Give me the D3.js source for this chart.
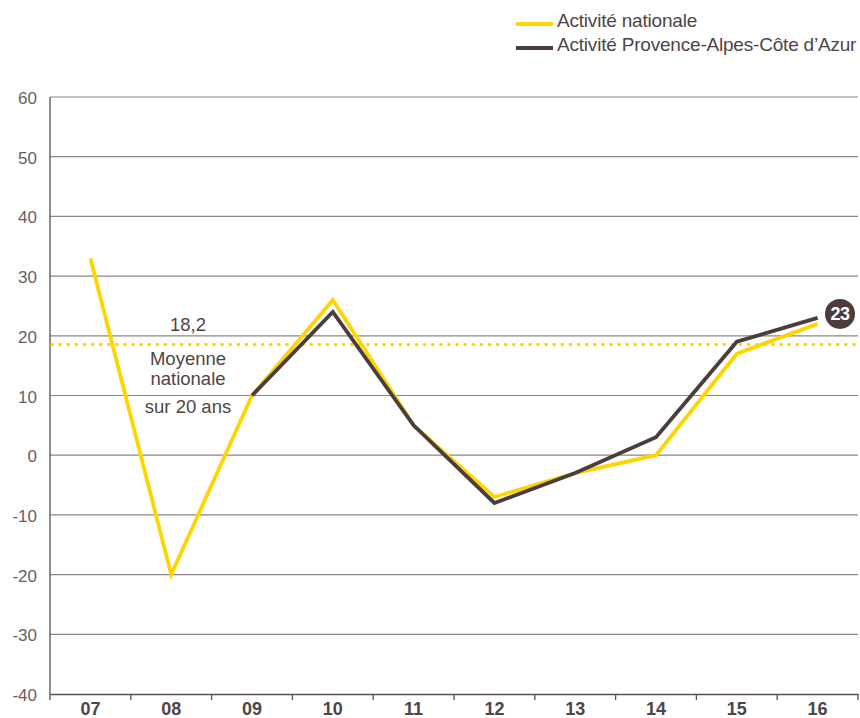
<!DOCTYPE html>
<html>
<head>
<meta charset="utf-8">
<script src="https://cdn.jsdelivr.net/npm/d3@7"></script>
<style>
  body { margin: 0; background: #fff; }
  svg { font-family: "Liberation Sans", Arial, sans-serif; }
</style>
</head>
<body>
<div id="canvas"></div>
<script>
// chart data
var years = ["07", "08", "09", "10", "11", "12", "13", "14", "15", "16"];
var national = [33, -20, 10, 26, 5, -7, -3, 0, 17, 22];
var paca = [null, null, 10, 24, 5, -8, -3, 3, 19, 23];
var yTicks = [60, 50, 40, 30, 20, 10, 0, -10, -20, -30, -40];
var moyenne = 18.2;
var seriesNames = ["Activité nationale", "Activité Provence-Alpes-Côte d’Azur"];

var yellow = "#ffd500",
    brown = "#4b3d3d",
    textCol = "#4f4545",
    gridCol = "#8d8686";

var width = 860, height = 718;
var plotLeft = 50, plotRight = 858, plotTop = 97, plotBottom = 694;

var svg = d3.select("#canvas").append("svg")
    .attr("width", width)
    .attr("height", height);

var x = d3.scaleBand().domain(years).range([plotLeft, plotRight]);
var y = d3.scaleLinear().domain([-40, 60]).range([plotBottom, plotTop]);

// horizontal grid
svg.append("g").selectAll("line")
    .data(yTicks.filter(function (d) { return d > -40; }))
    .enter().append("line")
    .attr("x1", plotLeft)
    .attr("x2", plotRight)
    .attr("y1", function (d) { return y(d); })
    .attr("y2", function (d) { return y(d); })
    .attr("stroke", gridCol)
    .attr("stroke-width", 1.2);

// y labels
svg.append("g").selectAll("text")
    .data(yTicks)
    .enter().append("text")
    .attr("x", 37)
    .attr("y", function (d) { return y(d) + 7; })
    .attr("text-anchor", "end")
    .style("font-size", "17px")
    .style("fill", "#676060")
    .text(function (d) { return d; });

// left axis line
svg.append("line")
    .attr("x1", plotLeft).attr("x2", plotLeft)
    .attr("y1", plotTop).attr("y2", plotBottom)
    .attr("stroke", "#5a4f4f")
    .attr("stroke-width", 1.3);

// bottom axis
var xAxis = d3.axisBottom(x).tickSize(0).tickPadding(0);
var gx = svg.append("g")
    .attr("transform", "translate(0," + plotBottom + ")")
    .call(xAxis);
gx.select(".domain").attr("stroke", "#5a4f4f").attr("stroke-width", 1.6);
gx.selectAll("text")
    .attr("dy", null)
    .attr("y", 21)
    .style("font-family", "'Liberation Sans', Arial, sans-serif")
    .style("font-size", "18px")
    .style("font-weight", "bold")
    .style("fill", textCol);

// ticks at band boundaries
svg.append("g").selectAll("line")
    .data(years)
    .enter().append("line")
    .attr("x1", function (d) { return x(d) + x.bandwidth(); })
    .attr("x2", function (d) { return x(d) + x.bandwidth(); })
    .attr("y1", plotBottom)
    .attr("y2", plotBottom + 6)
    .attr("stroke", "#5a4f4f")
    .attr("stroke-width", 1.3);
svg.append("line")
    .attr("x1", plotLeft).attr("x2", plotLeft)
    .attr("y1", plotBottom).attr("y2", plotBottom + 6)
    .attr("stroke", "#5a4f4f")
    .attr("stroke-width", 1.3);

// average dotted line
svg.append("line")
    .attr("x1", plotLeft + 2)
    .attr("x2", plotRight)
    .attr("y1", y(moyenne) - 2)
    .attr("y2", y(moyenne) - 2)
    .attr("stroke", yellow)
    .attr("stroke-width", 3.6)
    .attr("stroke-linecap", "round")
    .attr("stroke-dasharray", "0.1 8");

var cx = function (i) { return x(years[i]) + x.bandwidth() / 2; };

var lineGen = d3.line()
    .defined(function (d) { return d != null; })
    .x(function (d, i) { return cx(i); })
    .y(function (d) { return y(d); });

svg.append("path")
    .datum(national)
    .attr("d", lineGen)
    .attr("fill", "none")
    .attr("stroke", yellow)
    .attr("stroke-width", 3.8);

svg.append("path")
    .datum(paca)
    .attr("d", lineGen)
    .attr("fill", "none")
    .attr("stroke", brown)
    .attr("stroke-width", 3.8);

// average annotation
var ax = 188;
var noteLines = [
    { t: String(moyenne).replace(".", ","), y: 331 },
    { t: "Moyenne", y: 365 },
    { t: "nationale", y: 385 },
    { t: "sur 20 ans", y: 413 }
];
svg.append("g").selectAll("text")
    .data(noteLines)
    .enter().append("text")
    .attr("x", ax)
    .attr("y", function (d) { return d.y; })
    .attr("text-anchor", "middle")
    .style("font-size", "18.5px")
    .style("fill", textCol)
    .text(function (d) { return d.t; });

// last value badge
var last = paca[paca.length - 1];
svg.append("circle")
    .attr("cx", 840)
    .attr("cy", y(last) - 4)
    .attr("r", 15)
    .attr("fill", brown);
svg.append("text")
    .attr("x", 840)
    .attr("y", y(last) + 2.5)
    .attr("text-anchor", "middle")
    .style("font-size", "18px")
    .style("font-weight", "bold")
    .style("letter-spacing", "-0.5px")
    .style("fill", "#fff")
    .text(last);

// legend
var legend = svg.append("g");
[yellow, brown].forEach(function (c, i) {
    legend.append("line")
        .attr("x1", 516).attr("x2", 553)
        .attr("y1", 24 + i * 24).attr("y2", 24 + i * 24)
        .attr("stroke", c)
        .attr("stroke-width", 4);
    legend.append("text")
        .attr("x", 557)
        .attr("y", 27 + i * 24)
        .style("font-size", "19px")
        .style("fill", textCol)
        .style("letter-spacing", "-0.2px")
        .text(seriesNames[i]);
});
</script>
</body>
</html>
